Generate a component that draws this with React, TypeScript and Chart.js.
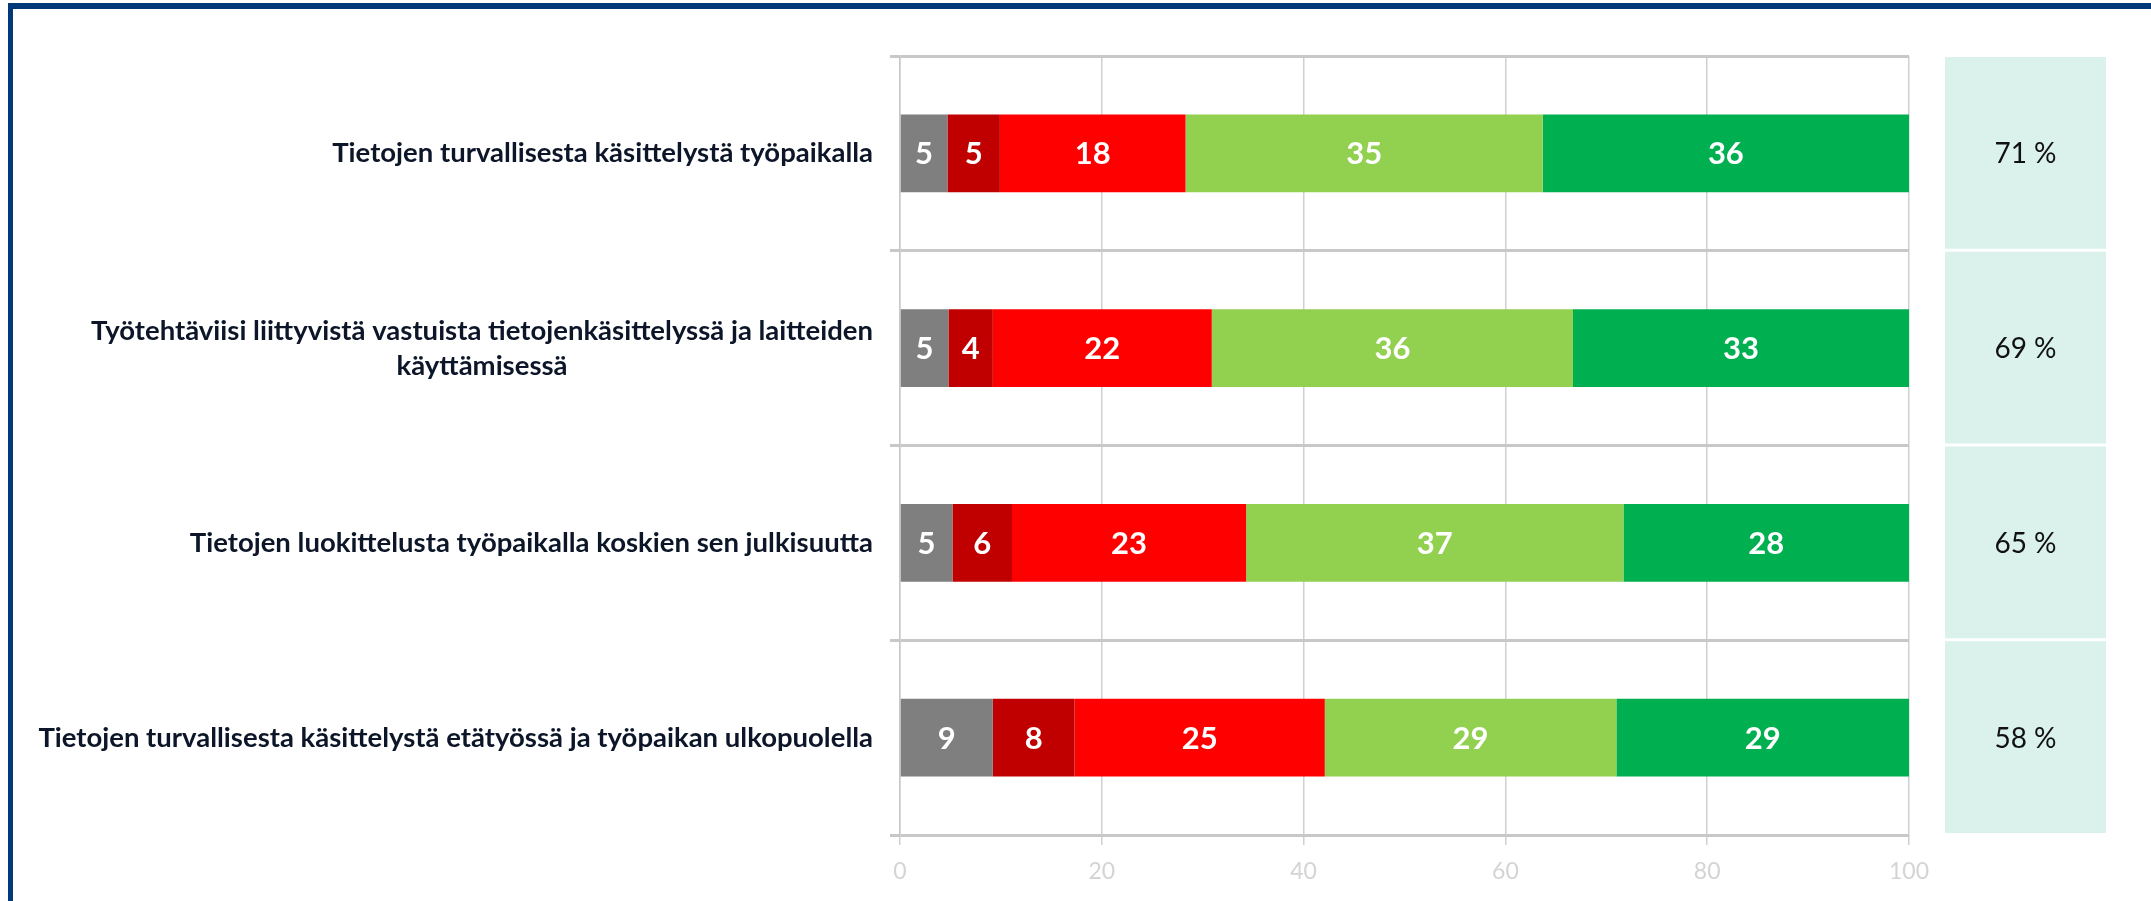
import React, { useEffect, useRef } from "react";
import { Chart, registerables } from "chart.js";

Chart.register(...registerables);

// ---------- data ----------
const categories: string[][] = [
  ["Tietojen turvallisesta käsittelystä työpaikalla"],
  ["Työtehtäviisi liittyvistä vastuista tietojenkäsittelyssä ja laitteiden", "käyttämisessä"],
  ["Tietojen luokittelusta työpaikalla koskien sen julkisuutta"],
  ["Tietojen turvallisesta käsittelystä etätyössä ja työpaikan ulkopuolella"],
];
const seriesNames = ["En osaa sanoa", "Erittäin huonosti", "Melko huonosti", "Melko hyvin", "Erittäin hyvin"];
const greyValues = [4.7, 4.8, 5.2, 9.2];
const darkRedValues = [5.2, 4.4, 5.9, 8.1];
const redValues = [18.4, 21.7, 23.2, 24.8];
const lightGreenValues = [35.4, 35.8, 37.4, 28.9];
const greenValues = [36.3, 33.3, 28.3, 29.0];
const totalGood = [71, 69, 65, 58];
const xTickValues = [0, 20, 40, 60, 80, 100];

const seriesColors = ["#7f7f7f", "#c00000", "#ff0000", "#92d050", "#00b050"];

const W = 2151;
const H = 901;

const framePlugin = {
  id: "frame",
  beforeDraw(chart: any) {
    const ctx = chart.ctx;
    ctx.save();
    ctx.fillStyle = "#ffffff";
    ctx.fillRect(0, 0, chart.width, chart.height);
    ctx.fillStyle = "#003878";
    ctx.fillRect(8, 3, chart.width - 8, 6);
    ctx.fillRect(8, 3, 5, chart.height - 3);
    ctx.restore();
  },
};

const categoryLabelPlugin = {
  id: "categoryLabels",
  afterDraw(chart: any) {
    const ctx = chart.ctx;
    const y = chart.scales.y;
    const right = chart.chartArea.left - 27;
    const lineH = 35;
    ctx.save();
    ctx.font = "bold 27.5px Lato";
    ctx.fillStyle = "#0c1628";
    ctx.textAlign = "center";
    ctx.textBaseline = "middle";
    categories.forEach((lines, i) => {
      const cy = y.getPixelForValue(i);
      const maxW = Math.max(...lines.map((l) => ctx.measureText(l).width));
      const cx = right - maxW / 2;
      lines.forEach((l, j) => {
        ctx.fillText(l, cx, cy + (j - (lines.length - 1) / 2) * lineH);
      });
    });
    ctx.restore();
  },
};

const dataLabelPlugin = {
  id: "barValues",
  afterDatasetsDraw(chart: any) {
    const ctx = chart.ctx;
    ctx.save();
    ctx.font = "bold 31px Lato";
    ctx.fillStyle = "#ffffff";
    ctx.textAlign = "center";
    ctx.textBaseline = "middle";
    chart.data.datasets.forEach((ds: any, i: number) => {
      const meta = chart.getDatasetMeta(i);
      meta.data.forEach((bar: any, j: number) => {
        const p = bar.getProps(["x", "y", "base"], true);
        ctx.fillText(String(Math.round(ds.data[j])), (p.x + p.base) / 2, p.y + 1);
      });
    });
    ctx.restore();
  },
};

const sidePanelPlugin = {
  id: "sidePanel",
  afterDraw(chart: any) {
    const ctx = chart.ctx;
    const y = chart.scales.y;
    const step = y.getPixelForValue(1) - y.getPixelForValue(0);
    const x0 = chart.chartArea.right + 36;
    const w = 161;
    ctx.save();
    totalGood.forEach((v, i) => {
      const c = y.getPixelForValue(i);
      const top = c - step / 2 + 1;
      const h = step - 3;
      ctx.fillStyle = "#daf2eb";
      ctx.fillRect(x0, top, w, h);
      ctx.fillStyle = "#111111";
      ctx.font = "28px Lato";
      ctx.textAlign = "center";
      ctx.textBaseline = "middle";
      ctx.fillText(v + " %", x0 + w / 2, c + 1);
    });
    ctx.restore();
  },
};

export default function App() {
  const ref = useRef<HTMLCanvasElement | null>(null);

  useEffect(() => {
    if (!ref.current) return;
    const valueSets = [greyValues, darkRedValues, redValues, lightGreenValues, greenValues];
    const chart = new Chart(ref.current, {
      type: "bar",
      data: {
        labels: categories.map((c) => c.join(" ")),
        datasets: valueSets.map((vals, i) => ({
          label: seriesNames[i],
          data: vals,
          backgroundColor: seriesColors[i],
          borderWidth: 0,
          barPercentage: 0.4,
          categoryPercentage: 1,
        })),
      },
      options: {
        indexAxis: "y",
        responsive: false,
        animation: false,
        devicePixelRatio: 1,
        layout: { padding: { left: 0, top: 56, right: 242, bottom: 0 } },
        plugins: {
          legend: { display: false },
          tooltip: { enabled: false },
          title: { display: false },
        },
        scales: {
          x: {
            stacked: true,
            min: 0,
            max: 100,
            afterBuildTicks(scale: any) {
              scale.ticks = xTickValues.map((v) => ({ value: v }));
            },
            afterFit(scale: any) {
              scale.height = 66;
            },
            grid: {
              color: "#d0d0d0",
              lineWidth: 1.5,
              tickLength: 10,
              drawTicks: true,
            },
            border: { display: false },
            ticks: {
              color: "#d4d4d4",
              font: { family: "Lato", size: 23 },
              padding: 13,
            },
          },
          y: {
            stacked: true,
            afterFit(scale: any) {
              scale.width = 900;
            },
            grid: {
              color: "#c8c8c8",
              lineWidth: 3,
              tickLength: 10,
              offset: true,
            },
            border: { display: true, color: "#c8c8c8", width: 1.5 },
            ticks: { display: false },
          },
        },
      },
      plugins: [framePlugin, categoryLabelPlugin, dataLabelPlugin, sidePanelPlugin],
    } as any);
    return () => chart.destroy();
  }, []);

  return (
    <div style={{ position: "absolute", left: 0, top: 0, width: W, height: H, overflow: "hidden" }}>
      <canvas ref={ref} width={W} height={H} style={{ display: "block", width: W, height: H }} />
    </div>
  );
}
